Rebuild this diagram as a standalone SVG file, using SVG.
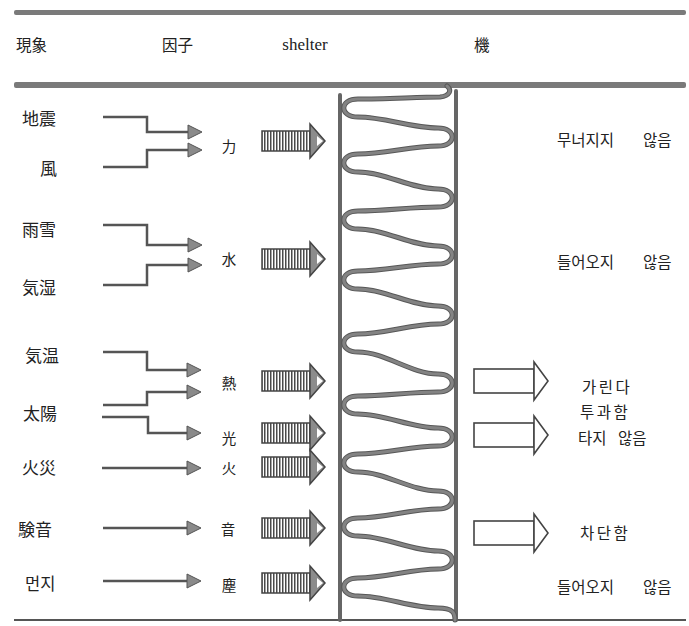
<svg xmlns="http://www.w3.org/2000/svg" width="689" height="626" viewBox="0 0 689 626">
<style>
.jp{font-family:"Noto Sans CJK JP","Noto Sans CJK SC",sans-serif;fill:#222;dominant-baseline:central}
.kr{font-family:"Noto Sans CJK KR",sans-serif;fill:#222;font-size:15.5px;dominant-baseline:central}
.lab{font-size:17px}
.fac{font-size:14.5px;text-anchor:middle}
.hdr{font-size:15.5px}
.en{font-family:"Liberation Serif",serif;font-size:17px;fill:#222;dominant-baseline:central}
.conn{fill:none;stroke:#555;stroke-width:2.5}
.bar{fill:#7a7a7a}
.rail{stroke:#666;stroke-width:4;stroke-linecap:round;fill:none}
.coilo{stroke:#585858;stroke-width:5;fill:none;stroke-linecap:round;stroke-linejoin:round}
.coili{stroke:#838383;stroke-width:3;fill:none;stroke-linecap:round;stroke-linejoin:round}
.open{fill:#fff;stroke:#444;stroke-width:1.6}
</style>
<defs>
<pattern id="vs" width="3" height="4" patternUnits="userSpaceOnUse"><rect width="3" height="4" fill="#fff"/><rect width="1.5" height="4" fill="#4a4a4a"/></pattern>
<marker id="ah" markerWidth="15" markerHeight="14" refX="0" refY="7" orient="auto" markerUnits="userSpaceOnUse" overflow="visible"><path d="M0,0 L14,7 L0,14 z" fill="#8a8a8a" stroke="#555" stroke-width="1"/></marker>
<g id="big"><rect x="262" y="-10" width="50" height="20" fill="url(#vs)" stroke="#444" stroke-width="1.5"/><path d="M310,-17 L325,0 L310,17 z" fill="#8c8c8c" stroke="#444" stroke-width="1.5"/><path d="M317,-5 L323,0 L317,5 z" fill="#fff"/></g>
<g id="opn"><rect x="474" y="-12" width="60" height="24" class="open"/><path d="M534,-19 L548,0 L534,19 z" class="open"/></g>
<path id="coilpath" d="M447 86 C452 90 450 96 440 97 C420 97 385 99 358 99
C339 99 339 117 358 117 C385 117 411 128 438 128
C457 128 457 146 438 146 C411 146 385 154 358 154
C339 154 339 172 358 172 C385 172 411 189 438 189
C457 189 457 207 438 207 C411 207 385 211 358 211
C339 211 339 229 358 229 C385 229 411 246 438 246
C457 246 457 264 438 264 C411 264 385 271 358 271
C339 271 339 289 358 289 C385 289 411 306 438 306
C457 306 457 324 438 324 C411 324 385 334 358 334
C339 334 339 352 358 352 C385 352 411 374 438 374
C457 374 457 392 438 392 C411 392 385 396 358 396
C339 396 339 414 358 414 C385 414 411 428 438 428
C457 428 457 446 438 446 C411 446 385 454 358 454
C339 454 339 472 358 472 C385 472 411 491 438 491
C457 491 457 509 438 509 C411 509 385 518 358 518
C339 518 339 536 358 536 C385 536 411 551 438 551
C457 551 457 569 438 569 C411 569 385 578 358 578
C339 578 339 596 358 596 C385 596 411 608 438 608
C453 608 455 613 455 620"/>
</defs>
<rect width="689" height="626" fill="#fff"/>

<g id="frame">
<rect class="bar" x="14" y="10" width="672" height="5" rx="2"/>
<rect class="bar" x="14" y="82" width="672" height="6" rx="2"/>
<rect x="14" y="619" width="672" height="2" fill="#555"/>
</g>

<g id="header">
<text class="jp hdr" x="16" y="44">現象</text>
<text class="jp hdr" x="162" y="44">因子</text>
<text class="en" x="305" y="44" text-anchor="middle">shelter</text>
<text class="jp hdr" x="474" y="44">機</text>
</g>

<g id="phenomena">
<text class="jp lab" x="22" y="117">地震</text>
<text class="jp lab" x="40" y="167">風</text>
<text class="jp lab" x="22" y="228">雨雪</text>
<text class="jp lab" x="22" y="286">気湿</text>
<text class="jp lab" x="25" y="354">気温</text>
<text class="jp lab" x="23" y="412">太陽</text>
<text class="jp lab" x="22" y="466">火災</text>
<text class="jp lab" x="18" y="528">験音</text>
<text class="kr" x="25" y="583" style="font-size:16.5px">먼지</text>
</g>

<g id="connectors">
<path class="conn" marker-end="url(#ah)" d="M103 117 H147 V132 H188"/>
<path class="conn" marker-end="url(#ah)" d="M103 167 H147 V150 H188"/>
<path class="conn" marker-end="url(#ah)" d="M103 225 H147 V245 H188"/>
<path class="conn" marker-end="url(#ah)" d="M103 285 H147 V265 H188"/>
<path class="conn" marker-end="url(#ah)" d="M103 352 H147 V370 H187"/>
<path class="conn" marker-end="url(#ah)" d="M103 405 H147 V392 H187"/>
<path class="conn" marker-end="url(#ah)" d="M102 417 H148 V433 H187"/>
<path class="conn" marker-end="url(#ah)" d="M102 468 H187"/>
<path class="conn" marker-end="url(#ah)" d="M103 528 H187"/>
<path class="conn" marker-end="url(#ah)" d="M103 581 H187"/>
</g>

<g id="factors">
<text class="jp fac" x="229" y="145">力</text>
<text class="jp fac" x="229" y="258">水</text>
<text class="jp fac" x="229" y="382">熱</text>
<text class="jp fac" x="229" y="437">光</text>
<text class="jp fac" x="229" y="467">火</text>
<text class="jp fac" x="228" y="528">音</text>
<text class="jp fac" x="229" y="584">塵</text>
</g>

<g id="force-arrows">
<use href="#big" y="141"/>
<use href="#big" y="259"/>
<use href="#big" y="381"/>
<use href="#big" y="433"/>
<use href="#big" y="467"/>
<use href="#big" y="528"/>
<use href="#big" y="583"/>
</g>

<g id="shelter">
<path class="rail" d="M340 95 V620"/>
<path class="rail" d="M456 91 V620"/>
<use href="#coilpath" class="coilo"/>
<use href="#coilpath" class="coili"/>
</g>

<g id="out-arrows">
<use href="#opn" y="381"/>
<use href="#opn" y="435"/>
<use href="#opn" y="533"/>
</g>

<g id="functions">
<text class="kr" x="557" y="139">무너지지</text>
<text class="kr" x="643" y="139">않음</text>
<text class="kr" x="557" y="261">들어오지</text>
<text class="kr" x="643" y="261">않음</text>
<text class="kr" x="582" y="386" letter-spacing="2.5">가린다</text>
<text class="kr" x="580" y="411" letter-spacing="2.5">투과함</text>
<text class="kr" x="578" y="437">타지</text>
<text class="kr" x="618" y="437">않음</text>
<text class="kr" x="580" y="532" letter-spacing="2.5">차단함</text>
<text class="kr" x="557" y="586">들어오지</text>
<text class="kr" x="643" y="586">않음</text>
</g>
</svg>
